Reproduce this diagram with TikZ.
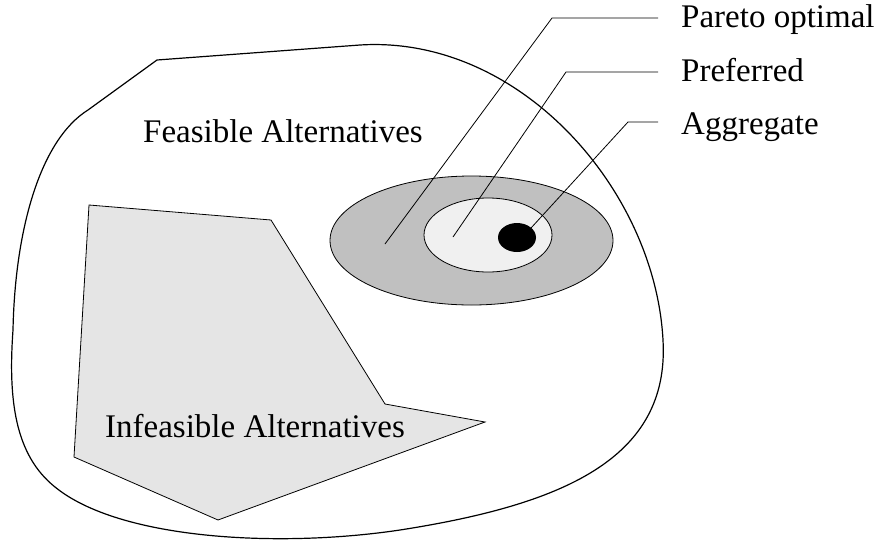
\documentclass[tikz,border=0pt]{standalone}
\usepackage{fontspec}
\setmainfont{Liberation Serif}
\definecolor{pareto}{HTML}{C0C0C0}
\definecolor{prefer}{HTML}{F0F0F0}
\definecolor{infeas}{HTML}{E5E5E5}
\begin{document}
\begin{tikzpicture}[x=1pt,y=-1pt,
  region/.style={draw=black,line width=0.8pt},
  leader/.style={draw=black,line width=0.8pt},
  lbl/.style={anchor=base west,inner sep=0pt,font=\fontsize{33}{40}\selectfont}]
\useasboundingbox (0,0) rectangle (881,544);
% feasible set outline
\draw[line width=1.2pt] (157,60) -- (360,45)
  .. controls (520,35) and (655,190) .. (663,340)
  .. controls (670,460) and (560,505) .. (400,530)
  .. controls (280,548) and (120,540) .. (55,487)
  .. controls (15,455) and (8,400) .. (13,330)
  .. controls (15,230) and (40,140) .. (88,110) -- cycle;
% infeasible polygon
\draw[region,fill=infeas] (89,205) -- (271,220) -- (385,404) -- (485,422) -- (218,520) -- (74,457) -- cycle;
% nested ellipses
\draw[region,fill=pareto] (471.5,240.5) ellipse [x radius=141.5pt, y radius=64.5pt];
\draw[region,fill=prefer] (488,235) ellipse [x radius=64pt, y radius=37pt];
\fill[black] (517,237.5) ellipse [x radius=19pt, y radius=14.5pt];
% texts
\node[lbl] (feas) at (143,142) {Feasible Alternatives};
\node[lbl] (infs) at (105,437) {Infeasible Alternatives};
\node[lbl] (lp) at (681,27) {Pareto optimal};
\node[lbl] (lr) at (681,81) {Preferred};
\node[lbl] (la) at (681,134) {Aggregate};
% leader points
\coordinate (ep) at (385,244);
\coordinate (kp) at (552,18);
\coordinate (tp) at (658,18);
\coordinate (er) at (453,237);
\coordinate (kr) at (566,72);
\coordinate (tr) at (658,72);
\coordinate (ea) at (531,228);
\coordinate (ka) at (628,122);
\coordinate (ta) at (658,122);
\draw[leader] (ep) -- (kp) -- (tp);
\draw[leader] (er) -- (kr) -- (tr);
\draw[leader] (ea) -- (ka) -- (ta);
\end{tikzpicture}
\end{document}
